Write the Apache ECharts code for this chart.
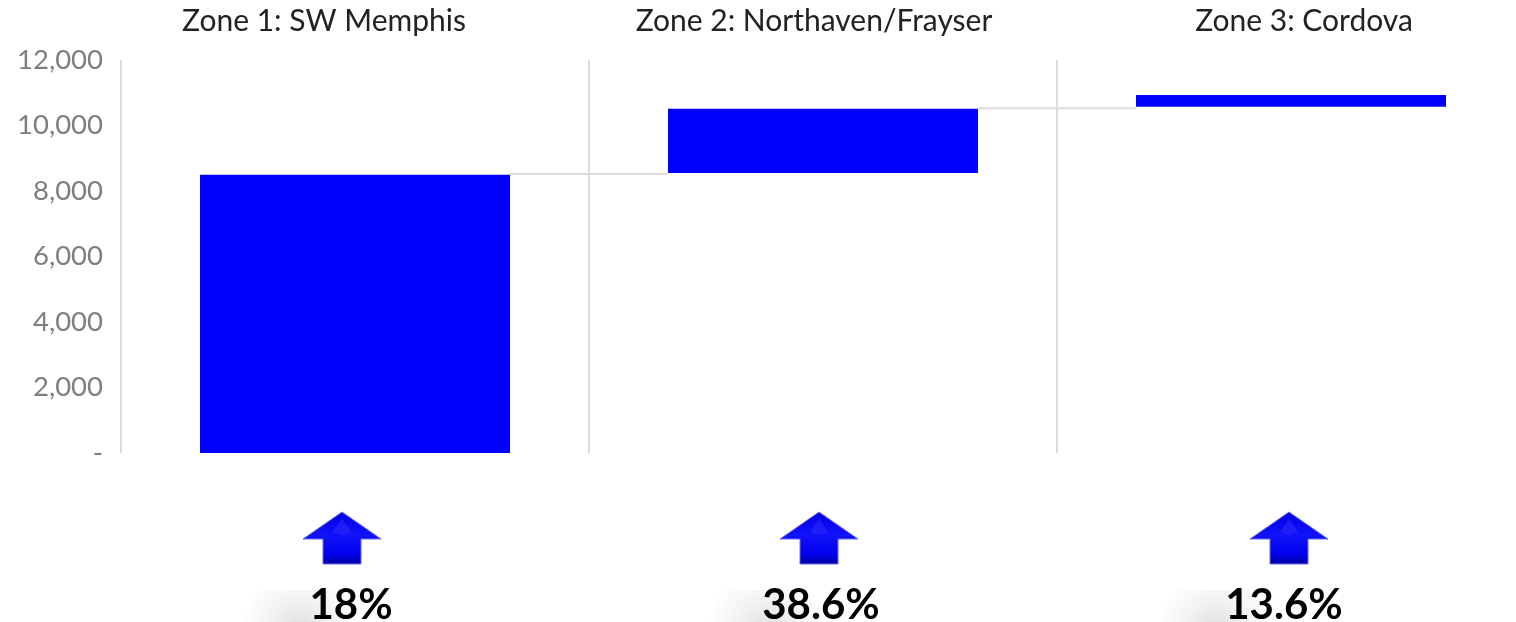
<!DOCTYPE html>
<html><head><meta charset="utf-8">
<style>html,body{margin:0;padding:0;background:#fff;overflow:hidden}#c{width:1516px;height:622px}</style>
<script src="https://cdn.jsdelivr.net/npm/echarts@6/dist/echarts.min.js"></script>
</head><body><div id="c"></div>
<script>
const categories = ['Zone 1: SW Memphis','Zone 2: Northaven/Frayser','Zone 3: Cordova'];
const baseValues = [0, 8550, 10570];
const riseValues = [8500, 1960, 360];
const connectorLevels = [8520, 10530];
const yTicks = [0,2000,4000,6000,8000,10000,12000];
const percents = ['18%','38.6%','13.6%'];
const titleCenters = [324, 814, 1304];
const arrowCenters = [342, 819, 1289];
const percentCenters = [351, 821, 1284];
const shadowCenters = [300, 767, 1217];

const chart = echarts.init(document.getElementById('c'), null, {renderer:'canvas'});
const FONT = 'Lato, "Open Sans", sans-serif';
const arrowFill = {type:'linear',x:0,y:0,x2:0,y2:1,colorStops:[
  {offset:0,color:'#0000e6'},{offset:.45,color:'#1212f8'},{offset:.8,color:'#0000ee'},{offset:1,color:'#00009c'}]};
function arrow(cx){
  return [{type:'polygon',silent:true,z:3,
    shape:{points:[[cx,512],[cx+39,539],[cx+19,539],[cx+19,564],[cx-19,564],[cx-19,539],[cx-39,539]]},
    style:{fill:arrowFill,stroke:'#6a6af2',lineWidth:1}},
   {type:'polygon',silent:true,z:4,
    shape:{points:[[cx,518],[cx+9,532],[cx,535],[cx-9,532]]},
    style:{fill:'rgba(70,70,255,0.3)'}}];
}
const graphics = [];
shadowCenters.forEach(cx=>graphics.push({type:'rect',silent:true,z:0,
  shape:{x:cx-70,y:590,width:140,height:32},
  style:{fill:{type:'radial',x:.5,y:1.25,r:1.9,colorStops:[{offset:0,color:'rgba(0,0,0,0.13)'},{offset:.5,color:'rgba(0,0,0,0.05)'},{offset:1,color:'rgba(0,0,0,0)'}]}}}));
categories.forEach((t,i)=>{
  graphics.push({type:'text',silent:true,style:{text:t,x:titleCenters[i],y:21,align:'center',verticalAlign:'middle',
    font:'30px '+FONT,fill:'#222'}});
  graphics.push(...arrow(arrowCenters[i]));
  graphics.push({type:'text',silent:true,z:5,style:{text:percents[i],x:percentCenters[i],y:605,align:'center',verticalAlign:'middle',
    font:'bold 42px '+FONT,fill:'#000'}});
});

chart.setOption({
  animation:false,
  backgroundColor:'#fff',
  grid:{left:121,top:60,width:1404,height:393,outerBoundsMode:'none',containLabel:false},
  xAxis:{type:'category',data:categories,boundaryGap:true,
    axisLine:{show:false},axisTick:{show:false},axisLabel:{show:false},
    splitLine:{show:true,interval:0,lineStyle:{color:'#dcdcdc',width:2}}},
  yAxis:{type:'value',min:0,max:12000,interval:2000,
    axisLine:{show:false},axisTick:{show:false},splitLine:{show:false},
    axisLabel:{margin:18,color:'#7f7f7f',fontFamily:FONT,fontSize:27.5,padding:[8,0,0,0],
      formatter:v=>v===0?'-':v.toLocaleString('en-US')}},
  series:[
    {type:'bar',stack:'w',data:baseValues,barWidth:310,itemStyle:{color:'transparent'},silent:true},
    {type:'bar',stack:'w',data:riseValues,barWidth:310,itemStyle:{color:'#0000ff'},silent:true},
    {type:'custom',silent:true,z:1,data:connectorLevels.map((v,i)=>[i,v]),
      encode:{x:0,y:1},
      renderItem(params,api){
        const a=api.coord([api.value(0),api.value(1)]);
        const b=api.coord([api.value(0)+1,api.value(1)]);
        return {type:'line',shape:{x1:a[0]+155,y1:a[1],x2:b[0]-155,y2:b[1]},
          style:{stroke:'#dcdcdc',lineWidth:2}};
      }}
  ],
  graphic:graphics
});
</script></body></html>
